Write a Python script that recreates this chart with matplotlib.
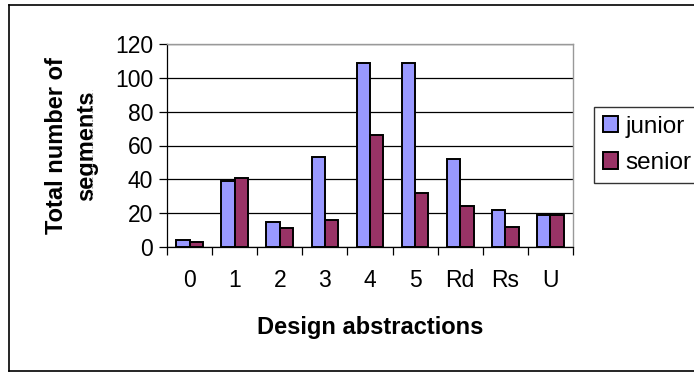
import numpy as np
import matplotlib.pyplot as plt
from matplotlib.lines import Line2D

plt.rcParams['font.family'] = ['Liberation Sans', 'DejaVu Sans']

categories = ['0', '1', '2', '3', '4', '5', 'Rd', 'Rs', 'U']
junior = [4, 39, 15, 53, 109, 109, 52, 22, 19]
senior = [3, 41, 11, 16, 66, 32, 24, 12, 19]

fig = plt.figure(figsize=(6.94, 3.73), dpi=100)
fig.patch.set_facecolor('white')
fig.patch.set_edgecolor('white')
fig.patch.set_linewidth(0)
ax = fig.add_axes([167 / 694, 1 - 247 / 373, 406 / 694, 203 / 373])

# outer chart border: left, top and bottom only, it runs off the right edge
bl, bt, bb = 9 / 694, 1 - 5 / 373, 1 - 371 / 373
fig.add_artist(Line2D([bl, 1.05], [bt, bt], transform=fig.transFigure,
                      color='black', linewidth=1.2, clip_on=False))
fig.add_artist(Line2D([bl, 1.05], [bb, bb], transform=fig.transFigure,
                      color='black', linewidth=1.2, clip_on=False))
fig.add_artist(Line2D([bl, bl], [bb, bt], transform=fig.transFigure,
                      color='black', linewidth=1.2))
# faint dashed outline left of the axis title
fig.add_artist(Line2D([92 / 694, 92 / 694], [1 - 197 / 373, 1 - 90 / 373],
                      transform=fig.transFigure, color='#aaaaaa',
                      linewidth=0.8, linestyle=(0, (2, 2))))

x = np.arange(len(categories))
w = 0.295
ax.bar(x - w / 2, junior, w, color='#9999FF', edgecolor='black',
       linewidth=1.4, label='junior', zorder=3)
ax.bar(x + w / 2, senior, w, color='#993366', edgecolor='black',
       linewidth=1.4, label='senior', zorder=3)

ax.set_xlim(-0.5, len(categories) - 0.5)
ax.set_ylim(0, 120)
ax.set_yticks(range(0, 121, 20))
ax.yaxis.grid(True, color='black', linewidth=0.9, zorder=0)

# ticks sit between categories, labels in the middle
ax.set_xticks(np.arange(-0.5, len(categories), 1.0))
ax.set_xticklabels([])
ax.set_xticks(x, minor=True)
ax.set_xticklabels(categories, minor=True)
ax.tick_params(axis='x', which='major', length=6, width=0.9, direction='out')
ax.tick_params(axis='x', which='minor', length=0, pad=16, labelsize=16.5)
ax.tick_params(axis='y', length=6, width=0.9, direction='out', pad=4,
               labelsize=16.5)

for side in ['top', 'right']:
    ax.spines[side].set_color('#999999')
    ax.spines[side].set_linewidth(1.0)
for side in ['left', 'bottom']:
    ax.spines[side].set_color('black')
    ax.spines[side].set_linewidth(0.9)

ax.set_xlabel('Design abstractions', fontsize=17, fontweight='bold',
              labelpad=17)
ax.set_ylabel('Total number of\nsegments', fontsize=17, fontweight='bold',
              labelpad=12, linespacing=1.4)

# legend box is wider than the figure so its right side is cut off
leg = fig.legend(loc='upper left',
                 bbox_to_anchor=(594 / 694, 1 - 107 / 373, 0.25, 0.0),
                 mode='expand', frameon=True, fancybox=False, fontsize=17.5,
                 handlelength=0.65, handleheight=0.65, handletextpad=0.3,
                 borderpad=0.35, labelspacing=0.6, borderaxespad=0)
leg.get_frame().set_edgecolor('black')
leg.get_frame().set_linewidth(1.0)

fig.savefig('out.png', dpi=100, facecolor='white', edgecolor='white')
